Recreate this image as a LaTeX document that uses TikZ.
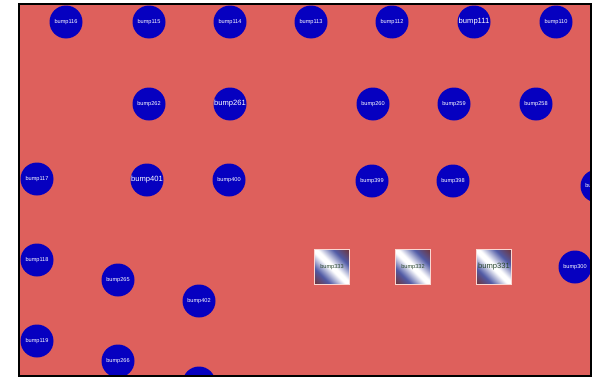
\documentclass[tikz,border=0pt]{standalone}
\usepackage{fontspec}
\setmainfont{Liberation Sans}
\definecolor{bg}{RGB}{222,96,92}
\definecolor{bumpblue}{RGB}{6,0,192}
\definecolor{sqdark}{RGB}{110,55,65}
\definecolor{sqblue}{RGB}{80,90,165}
\definecolor{sqedge}{RGB}{250,215,210}
\definecolor{sqtext}{RGB}{40,70,45}
\pgfdeclarehorizontalshading{sqshade}{100bp}{color(0bp)=(sqdark); color(16bp)=(sqdark); color(31bp)=(sqblue); color(47bp)=(white); color(53bp)=(white); color(69bp)=(sqblue); color(84bp)=(sqdark); color(100bp)=(sqdark)}
\begin{document}
\begin{tikzpicture}[x=1pt,y=-1pt,
  bump/.style={circle, fill=bumpblue, minimum size=33pt, inner sep=0pt, text=white, font=\fontsize{5.6}{6}\selectfont},
  bigbump/.style={bump, font=\fontsize{7.6}{8}\selectfont},
  sqbox/.style={rectangle, minimum size=35pt, inner sep=0pt, draw=sqedge, line width=1pt, shading=sqshade, shading angle=45, text=sqtext, font=\fontsize{5.6}{6}\selectfont},
  bigsq/.style={sqbox, font=\fontsize{7.6}{8}\selectfont}]
\useasboundingbox (0,0) rectangle (593,380);
\fill[white] (0,0) rectangle (593,380);
\begin{scope}
\clip (19,4) rectangle (591,376);
\fill[bg] (19,4) rectangle (591,376);
% row 1
\node[bump] (b116) at (66,22) {bump116};
\node[bump] (b115) at (149,22) {bump115};
\node[bump] (b114) at (230,22) {bump114};
\node[bump] (b113) at (311,22) {bump113};
\node[bump] (b112) at (392,22) {bump112};
\node[bigbump] (b111) at (474,22) {bump111};
\node[bump] (b110) at (556,22) {bump110};
% row 2
\node[bump] (b262) at (149,104) {bump262};
\node[bigbump] (b261) at (230,104) {bump261};
\node[bump] (b260) at (373,104) {bump260};
\node[bump] (b259) at (454,104) {bump259};
\node[bump] (b258) at (536,104) {bump258};
% row 3
\node[bump] (b117) at (37,179) {bump117};
\node[bigbump] (b401) at (147,180) {bump401};
\node[bump] (b400) at (229,180) {bump400};
\node[bump] (b399) at (372,181) {bump399};
\node[bump] (b398) at (453,181) {bump398};
\node[bump] (b397) at (597,186) {bump397};
% row 4
\node[bump] (b118) at (37,260) {bump118};
\node[bump] (b265) at (118,280) {bump265};
\node[bump] (b402) at (199,301) {bump402};
\node[sqbox] (s333) at (332,267) {bump333};
\node[sqbox] (s332) at (413,267) {bump332};
\node[bigsq] (s331) at (494,267) {bump331};
\node[bump] (b300) at (575,267) {bump300};
% row 5
\node[bump] (b119) at (37,341) {bump119};
\node[bump] (b266) at (118,361) {bump266};
\node[bump] (b403) at (199,383) {};
\end{scope}
\draw[line width=2pt] (19,4) rectangle (591,376);
\end{tikzpicture}
\end{document}
